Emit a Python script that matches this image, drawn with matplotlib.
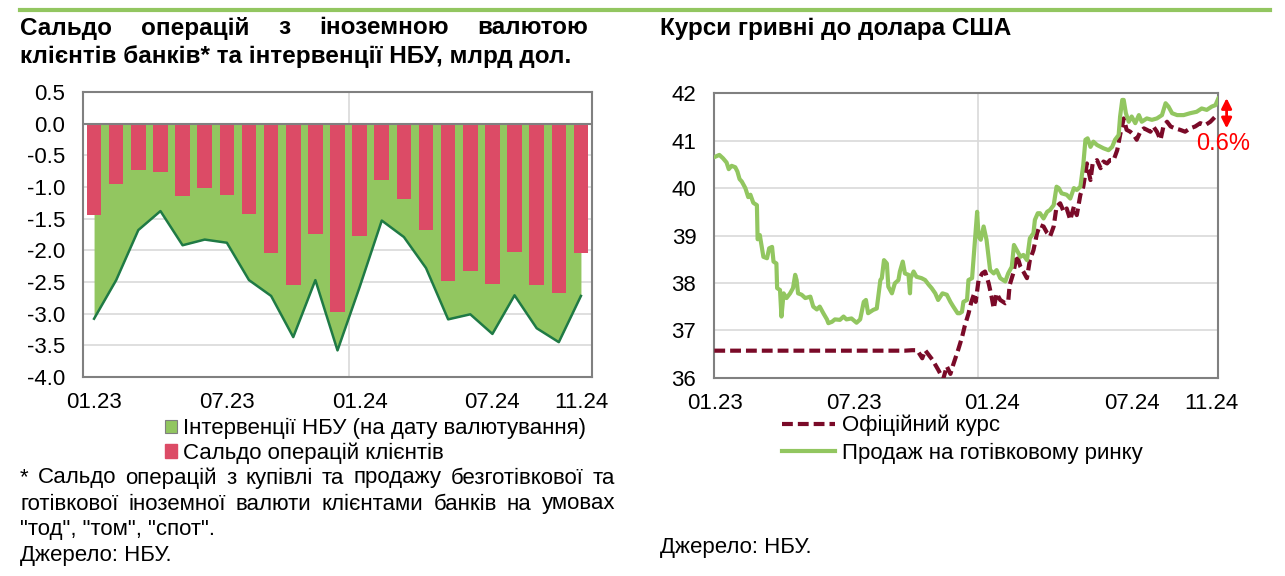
import matplotlib
matplotlib.use("Agg")
import matplotlib.pyplot as plt
from matplotlib.patches import Patch
from matplotlib.lines import Line2D

plt.rcParams['font.family'] = ['Liberation Sans', 'DejaVu Sans']

W, H = 1285, 576

# left chart: monthly, bn USD
months = ['01.23', '02.23', '03.23', '04.23', '05.23', '06.23', '07.23', '08.23',
          '09.23', '10.23', '11.23', '12.23', '01.24', '02.24', '03.24', '04.24',
          '05.24', '06.24', '07.24', '08.24', '09.24', '10.24', '11.24']
clients = [-1.44, -0.96, -0.73, -0.76, -1.14, -1.02, -1.13, -1.42, -2.04, -2.55, -1.75, -2.97,
           -1.77, -0.89, -1.19, -1.68, -2.49, -2.33, -2.53, -2.03, -2.55, -2.67, -2.05]
interventions = [-3.08, -2.47, -1.68, -1.38, -1.92, -1.83, -1.88, -2.47, -2.72, -3.37, -2.47, -3.58,
                 -2.58, -1.53, -1.79, -2.28, -3.09, -3.01, -3.32, -2.71, -3.23, -3.45, -2.72]
left_ticks = ['01.23', '07.23', '01.24', '07.24', '11.24']

# right chart: days since 01.01.2023, UAH per USD
official_days = [0, 264, 274, 281, 288, 292, 302, 310, 317, 322, 327, 331, 338, 343, 347, 352, 356,
                 360, 362, 366, 371, 375, 380, 384, 387, 391, 396, 403, 407, 409, 414, 419, 424,
                 428, 433, 437, 442, 447, 451, 456, 461, 465, 470, 474, 479, 484, 488, 493, 498,
                 502, 507, 511, 516, 521, 524, 530, 535, 539, 544, 548, 553, 558, 562, 567, 571,
                 576, 581, 585, 590, 595, 599, 604, 608, 613, 618, 622, 627, 632, 638, 645, 652,
                 659, 666, 673, 680, 687, 694, 698]
official = [36.57, 36.57, 36.58, 36.58, 36.41, 36.58, 36.38, 36.17, 35.97, 36.24, 36.08, 36.28,
            36.6, 36.85, 37.1, 37.35, 37.6, 37.78, 37.6, 38.06, 38.20, 38.24, 37.99, 37.71,
            37.46, 37.78, 37.64, 37.57, 37.60, 37.95, 38.20, 38.59, 38.34, 38.24, 38.10, 38.48,
            38.69, 39.05, 39.22, 39.19, 39.05, 38.98, 39.19, 39.61, 39.68, 39.50, 39.57, 39.33,
            39.61, 39.43, 39.86, 40.03, 40.52, 40.17, 40.52, 40.59, 40.42, 40.56, 40.52, 40.59,
            40.59, 40.80, 41.12, 41.47, 41.23, 41.19, 41.12, 41.02, 41.19, 41.26, 41.23, 41.19,
            41.30, 41.19, 41.02, 41.30, 41.40, 41.30, 41.26, 41.23, 41.19, 41.26, 41.30, 41.37,
            41.33, 41.40, 41.51, 41.56]
cash_days = [1, 7, 12, 17, 20, 24, 29, 32, 35, 38, 43, 47, 50, 54, 59, 60, 63, 68, 73, 76, 80, 82,
             86, 87, 91, 93, 96, 100, 105, 109, 112, 114, 116, 121, 126, 133, 137, 142, 146, 151,
             156, 158, 163, 167, 174, 179, 183, 190, 197, 202, 207, 210, 213, 220, 225, 230, 232,
             235, 239, 241, 246, 250, 255, 257, 261, 264, 269, 271, 272, 276, 280, 287, 292, 297,
             301, 306, 310, 316, 322, 327, 331, 337, 340, 343, 345, 350, 352, 357, 361, 364, 366,
             369, 373, 377, 382, 387, 391, 396, 403, 407, 412, 415, 419, 424, 428, 433, 437, 442,
             444, 448, 451, 456, 461, 465, 470, 474, 477, 481, 488, 493, 498, 502, 507, 511, 514,
             517, 521, 525, 530, 539, 546, 551, 555, 560, 562, 565, 567, 570, 574, 578, 583, 588,
             592, 599, 606, 613, 620, 625, 629, 634, 641, 650, 659, 668, 675, 682, 689, 694, 698]
cash = [40.66, 40.70, 40.63, 40.54, 40.40, 40.47, 40.44, 40.35, 40.19, 40.14, 40.0, 39.81, 39.86,
        39.69, 39.64, 38.92, 39.01, 38.55, 38.52, 38.73, 38.76, 38.45, 38.41, 37.89, 37.85, 37.29,
        37.78, 37.68, 37.78, 37.89, 38.17, 38.06, 37.78, 37.75, 37.68, 37.71, 37.50, 37.44, 37.50,
        37.36, 37.23, 37.15, 37.18, 37.23, 37.22, 37.29, 37.23, 37.25, 37.16, 37.23, 37.60, 37.64,
        37.36, 37.43, 37.46, 38.06, 38.10, 38.48, 38.41, 37.92, 37.78, 37.99, 38.06, 38.24, 38.45,
        38.20, 38.17, 37.78, 38.10, 38.24, 38.13, 38.10, 38.06, 37.96, 37.89, 37.78, 37.64, 37.78,
        37.75, 37.60, 37.50, 37.36, 37.36, 37.39, 37.60, 37.64, 38.06, 38.10, 38.91, 39.50, 38.98,
        38.91, 39.19, 38.91, 38.27, 38.20, 38.27, 38.10, 38.03, 38.20, 38.34, 38.80, 38.69, 38.55,
        38.59, 38.48, 38.94, 39.05, 39.33, 39.47, 39.47, 39.36, 39.50, 39.54, 39.64, 40.03, 40.0,
        39.89, 39.86, 39.78, 40.0, 39.96, 40.03, 40.49, 41.02, 41.05, 40.87, 40.98, 40.91, 40.84,
        40.80, 40.87, 41.02, 41.12, 41.51, 41.86, 41.86, 41.58, 41.40, 41.51, 41.37, 41.54, 41.40,
        41.47, 41.44, 41.47, 41.54, 41.79, 41.72, 41.58, 41.54, 41.54, 41.58, 41.61, 41.68, 41.65,
        41.72, 41.75, 41.89]
right_tick_days = [1, 193, 385, 578, 688]
right_ticks = ['01.23', '07.23', '01.24', '07.24', '11.24']

GREEN = '#92c660'
RED = '#dc4b66'
DKGREEN = '#1f7a45'
MAROON = '#7a0a28'
GRID = '#d9d9d9'
FRAME = '#808080'
FS = 16
TFS = 17.5


def fx(x):
    return x / W


def fy(y):
    return 1 - y / H


fig = plt.figure(figsize=(W / 100, H / 100), dpi=100)

# ---- left chart
ax1 = fig.add_axes([fx(83), fy(377), fx(592) - fx(83), fy(92) - fy(377)])
x = list(range(len(months)))
ax1.fill_between(x, 0, interventions, color=GREEN, lw=0, zorder=2)
ax1.plot(x, interventions, color=DKGREEN, lw=1.8, zorder=3)
ax1.bar(x, clients, width=0.66, color=RED, zorder=4)
ax1.axhline(0, color=FRAME, lw=1.5, zorder=5)
ax1.axvline(11.5, color=GRID, lw=1.2, zorder=1)
ax1.set_xlim(-0.5, len(months) - 0.5)
ax1.set_ylim(-4, 0.5)
ax1.set_yticks([i * 0.5 for i in range(-8, 2)])
ax1.set_yticklabels(['%.1f' % (i * 0.5) for i in range(-8, 2)])
ax1.set_xticks([months.index(m) for m in left_ticks])
ax1.set_xticklabels(left_ticks)
ax1.grid(axis='y', color=GRID, lw=1.2, zorder=0)
ax1.set_axisbelow(True)

# ---- right chart
ax2 = fig.add_axes([fx(714.3), fy(377.7), fx(1218.3) - fx(714.3), fy(93.3) - fy(377.7)])
ax2.plot(official_days, official, color=MAROON, lw=3, dashes=(2.6, 1.2), zorder=3)
ax2.plot(cash_days, cash, color=GREEN, lw=3, zorder=4)
ax2.axvline(365, color=GRID, lw=1.2, zorder=1)
ax2.set_xlim(0, 698)
ax2.set_ylim(36, 42)
ax2.set_yticks(range(36, 43))
ax2.set_xticks(right_tick_days)
ax2.set_xticklabels(right_ticks)
ax2.grid(axis='y', color=GRID, lw=1.2, zorder=0)
ax2.annotate('', xy=(709.5, 41.9), xytext=(709.5, 41.26), annotation_clip=False,
             arrowprops=dict(arrowstyle='<|-|>', color='red', lw=2, mutation_scale=15,
                             shrinkA=0, shrinkB=0))
ax2.text(705, 40.92, '0.6%', color='red', fontsize=FS + 1, ha='center', va='center',
         clip_on=False)

for ax in (ax1, ax2):
    for s in ax.spines.values():
        s.set_color(FRAME)
        s.set_linewidth(1.5)
    ax.tick_params(length=0, labelsize=FS, colors='black')
    ax.tick_params(axis='y', pad=13)
    ax.tick_params(axis='x', pad=11)

# ---- legends
leg1 = fig.legend(handles=[Patch(facecolor=GREEN, edgecolor='#7f7f7f', lw=0.8),
                           Patch(facecolor=RED, edgecolor=RED)],
                  labels=['Інтервенції НБУ (на дату валютування)', 'Сальдо операцій клієнтів'],
                  loc='upper left', bbox_to_anchor=(fx(165), fy(418)), frameon=False,
                  fontsize=FS, handlelength=0.55, handleheight=0.55, handletextpad=0.25,
                  labelspacing=0.15, borderpad=0, borderaxespad=0)
leg2 = fig.legend(handles=[Line2D([], [], color=MAROON, lw=3, dashes=(2.6, 1.2)),
                           Line2D([], [], color=GREEN, lw=3)],
                  labels=['Офіційний курс', 'Продаж на готівковому ринку'],
                  loc='upper left', bbox_to_anchor=(fx(782), fy(415)), frameon=False,
                  fontsize=FS, handlelength=2.4, handletextpad=0.3,
                  labelspacing=0.28, borderpad=0, borderaxespad=0)

# ---- header lines and titles
fig.add_artist(Line2D([fx(20), fx(1270)], [fy(10), fy(10)], color=GREEN, lw=3))

renderer = fig.canvas.get_renderer()


def justify(words, x0, x1, y, **kw):
    texts = [fig.text(0, fy(y), w, va='center', ha='left', **kw) for w in words]
    widths = [t.get_window_extent(renderer).width for t in texts]
    gap = ((x1 - x0) - sum(widths)) / (len(words) - 1)
    pos = x0
    for t, w in zip(texts, widths):
        t.set_x(fx(pos))
        pos += w + gap


justify('Сальдо операцій з іноземною валютою'.split(), 20, 588, 28,
        fontsize=TFS, fontweight='bold')
fig.text(fx(20), fy(57), 'клієнтів банків* та інтервенції НБУ, млрд дол.',
         fontsize=TFS, fontweight='bold', va='center')
fig.text(fx(660), fy(28), 'Курси гривні до долара США', fontsize=TFS, fontweight='bold',
         va='center')

justify('* Сальдо операцій з купівлі та продажу безготівкової та'.split(), 20, 615, 478,
        fontsize=FS)
justify('готівкової іноземної валюти клієнтами банків на умовах'.split(), 20, 615, 504,
        fontsize=FS)
fig.text(fx(20), fy(530), '"тод", "том", "спот".', fontsize=FS, va='center')
fig.text(fx(20), fy(556), 'Джерело: НБУ.', fontsize=FS, va='center')
fig.text(fx(660), fy(548), 'Джерело: НБУ.', fontsize=FS, va='center')

fig.savefig('out.png', dpi=100)
